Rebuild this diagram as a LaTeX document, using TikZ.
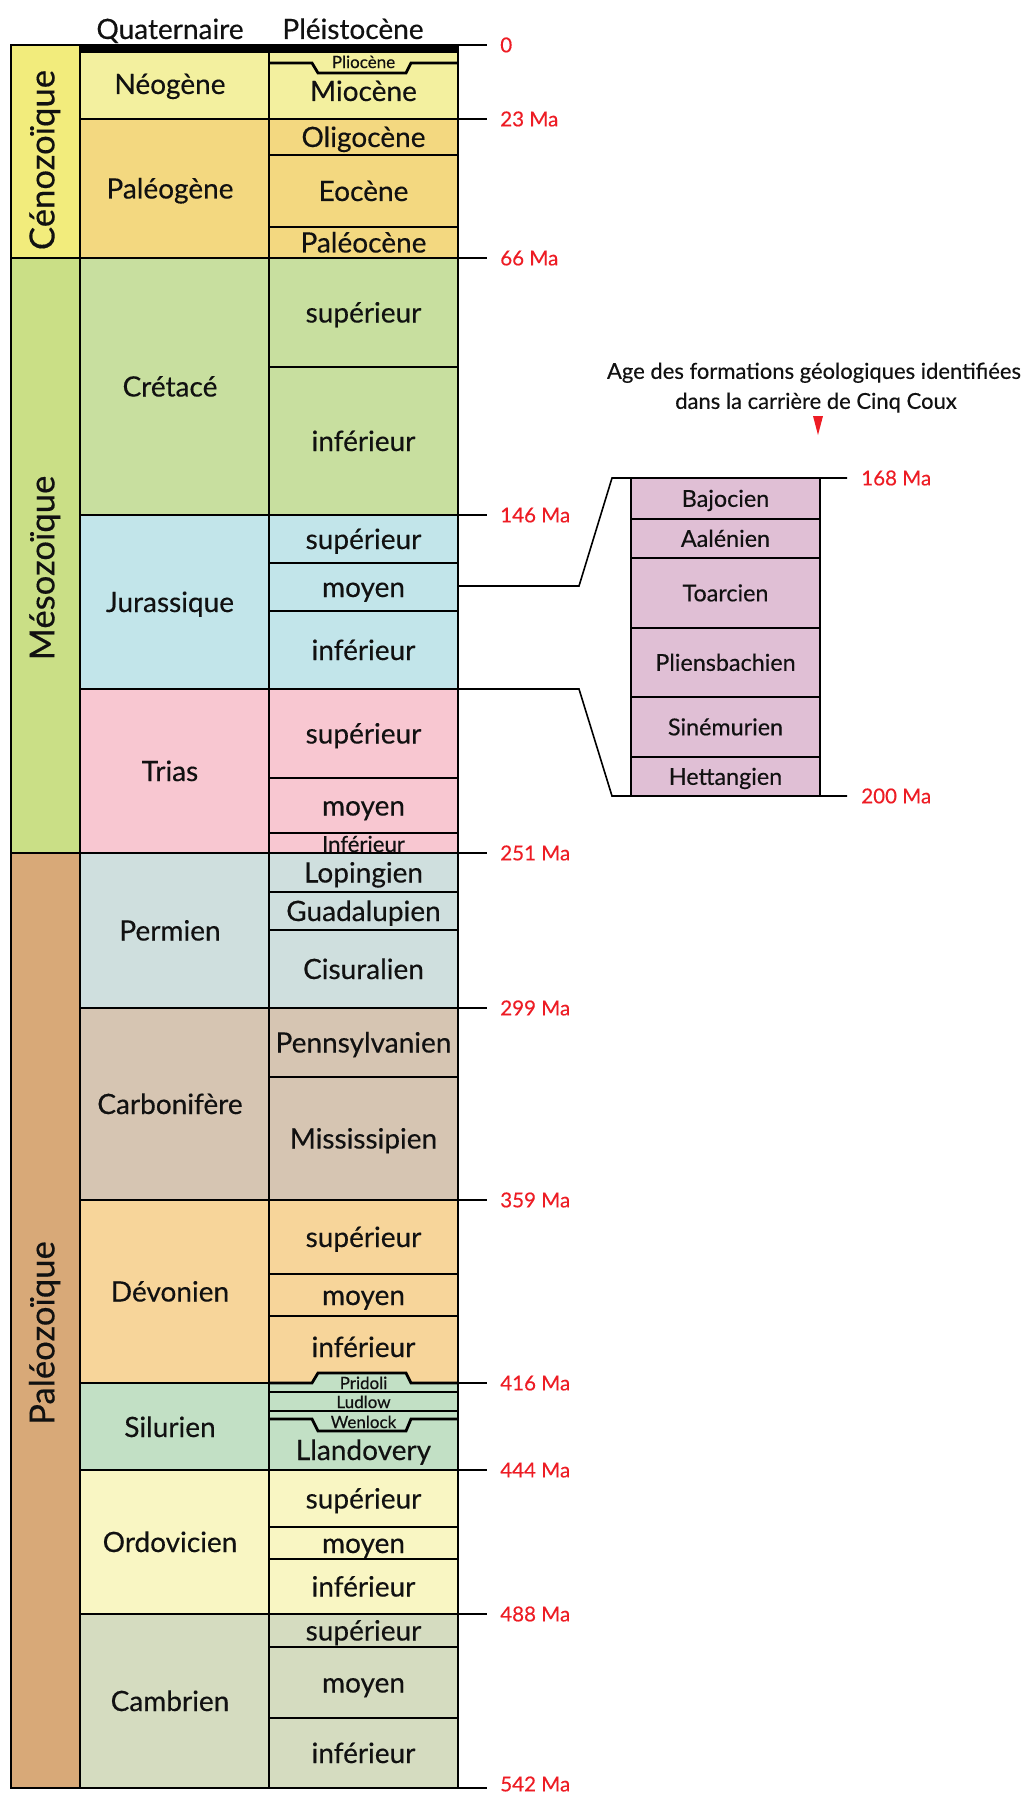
\documentclass[tikz,border=0pt]{standalone}
\usepackage{fontspec}
\setmainfont{Lato}[FakeBold=0.35]
\definecolor{ceno}{HTML}{F2EC7C}
\definecolor{neog}{HTML}{F3F09F}
\definecolor{paleog}{HTML}{F3D880}
\definecolor{meso}{HTML}{CADF86}
\definecolor{cret}{HTML}{C8DF9F}
\definecolor{jura}{HTML}{C2E5EA}
\definecolor{trias}{HTML}{F8C7D1}
\definecolor{paleo}{HTML}{D8A978}
\definecolor{perm}{HTML}{CFDFDE}
\definecolor{carb}{HTML}{D6C5B2}
\definecolor{devo}{HTML}{F7D59A}
\definecolor{silu}{HTML}{C2E0C5}
\definecolor{ordo}{HTML}{F9F6C3}
\definecolor{camb}{HTML}{D5DCC0}
\definecolor{jdet}{HTML}{E0BFD5}
\definecolor{redl}{HTML}{ED1C24}
\definecolor{txt}{HTML}{111111}
\begin{document}
\begin{tikzpicture}[x=0.75pt,y=-0.75pt,
  bx/.style={draw=black,line width=2.1pt},
  sepline/.style={draw=black,line width=2.1pt},
  tickline/.style={draw=black,line width=1.2pt},
  lab/.style={inner sep=0pt,text depth=0pt,text=txt},
  fm/.style={lab,font=\fontsize{21}{25}\selectfont,text height=15.0pt},
  fs/.style={lab,font=\fontsize{12.75}{15}\selectfont,text height=9.1pt},
  fd/.style={lab,font=\fontsize{17.5}{21}\selectfont,text height=12.5pt},
  era/.style={lab,font=\fontsize{26}{30}\selectfont,text height=18.6pt,rotate=90},
  age/.style={lab,anchor=west,text=redl,font=\fontsize{15.4}{18}\selectfont,text height=11.0pt},
  ttl/.style={lab,font=\fontsize{16.5}{19}\selectfont,text height=11.8pt},
]
\useasboundingbox (0,0) rectangle (1022,1794);

% ---- eras
\filldraw[bx,fill=ceno] (11,45) rectangle (80,258);
\filldraw[bx,fill=meso] (11,258) rectangle (80,853);
\filldraw[bx,fill=paleo] (11,853) rectangle (80,1788);

% ---- periods
\filldraw[bx,fill=neog] (80,52) rectangle (269,119);
\filldraw[bx,fill=paleog] (80,119) rectangle (269,258);
\filldraw[bx,fill=cret] (80,258) rectangle (269,515);
\filldraw[bx,fill=jura] (80,515) rectangle (269,689);
\filldraw[bx,fill=trias] (80,689) rectangle (269,853);
\filldraw[bx,fill=perm] (80,853) rectangle (269,1008);
\filldraw[bx,fill=carb] (80,1008) rectangle (269,1200);
\filldraw[bx,fill=devo] (80,1200) rectangle (269,1383);
\filldraw[bx,fill=silu] (80,1383) rectangle (269,1470);
\filldraw[bx,fill=ordo] (80,1470) rectangle (269,1614);
\filldraw[bx,fill=camb] (80,1614) rectangle (269,1788);

% ---- epochs
\filldraw[bx,fill=neog] (269,52) rectangle (458,119);
\filldraw[bx,fill=paleog] (269,119) rectangle (458,155);
\filldraw[bx,fill=paleog] (269,155) rectangle (458,227);
\filldraw[bx,fill=paleog] (269,227) rectangle (458,258);
\filldraw[bx,fill=cret] (269,258) rectangle (458,367);
\filldraw[bx,fill=cret] (269,367) rectangle (458,515);
\filldraw[bx,fill=jura] (269,515) rectangle (458,563);
\filldraw[bx,fill=jura] (269,563) rectangle (458,611);
\filldraw[bx,fill=jura] (269,611) rectangle (458,689);
\filldraw[bx,fill=trias] (269,689) rectangle (458,778);
\filldraw[bx,fill=trias] (269,778) rectangle (458,833);
\filldraw[bx,fill=trias] (269,833) rectangle (458,853);
\filldraw[bx,fill=perm] (269,853) rectangle (458,892);
\filldraw[bx,fill=perm] (269,892) rectangle (458,930);
\filldraw[bx,fill=perm] (269,930) rectangle (458,1008);
\filldraw[bx,fill=carb] (269,1008) rectangle (458,1077);
\filldraw[bx,fill=carb] (269,1077) rectangle (458,1200);
\filldraw[bx,fill=devo] (269,1200) rectangle (458,1274);
\filldraw[bx,fill=devo] (269,1274) rectangle (458,1316);
\filldraw[bx,fill=devo] (269,1316) rectangle (458,1383);
\filldraw[bx,fill=silu] (269,1383) rectangle (458,1470);
\filldraw[bx,fill=ordo] (269,1470) rectangle (458,1527);
\filldraw[bx,fill=ordo] (269,1527) rectangle (458,1559);
\filldraw[bx,fill=ordo] (269,1559) rectangle (458,1614);
\filldraw[bx,fill=camb] (269,1614) rectangle (458,1647);
\filldraw[bx,fill=camb] (269,1647) rectangle (458,1718);
\filldraw[bx,fill=camb] (269,1718) rectangle (458,1788);

% top black band (Quaternaire / Pleistocene)
\fill[black] (79,44) rectangle (459,52);

% notched boundaries
\draw[sepline] (269,63) -- (312,63) -- (318,73) -- (406,73) -- (411,63) -- (458,63);
\fill[silu] (312,1385.5) -- (318,1373) -- (406,1373) -- (411,1385.5) -- cycle;
\draw[sepline] (269,1383) -- (312,1383) -- (318,1373) -- (406,1373) -- (411,1383) -- (458,1383);
\draw[sepline] (269,1392) -- (458,1392);
\draw[sepline] (269,1411) -- (458,1411);
\draw[sepline] (269,1419) -- (312,1419) -- (318,1431) -- (406,1431) -- (411,1419) -- (458,1419);

% ---- headers
\node[fm] (hq) at (170,29) {Quaternaire};
\node[fm] (hp) at (353,29) {Pléistocène};

% ---- era labels
\node[era] (e1) at (42,160) {Cénozoïque};
\node[era] (e2) at (42,568) {Mésozoïque};
\node[era] (e3) at (42,1333) {Paléozoïque};

% ---- period labels
\node[fm] (p1) at (170,84) {Néogène};
\node[fm] (p2) at (170,188.5) {Paléogène};
\node[fm] (p3) at (170,386.5) {Crétacé};
\node[fm] (p4) at (170,602) {Jurassique};
\node[fm] (p5) at (170,771) {Trias};
\node[fm] (p6) at (170,930.5) {Permien};
\node[fm] (p7) at (170,1104) {Carbonifère};
\node[fm] (p8) at (170,1291.5) {Dévonien};
\node[fm] (p9) at (170,1427) {Silurien};
\node[fm] (p10) at (170,1542) {Ordovicien};
\node[fm] (p11) at (170,1701) {Cambrien};

% ---- epoch labels
\node[fs] (s1) at (363.5,62) {Pliocène};
\node[fm] (s2) at (363.5,91) {Miocène};
\node[fm] (s3) at (363.5,137) {Oligocène};
\node[fm] (s4) at (363.5,191) {Eocène};
\node[fm] (s5) at (363.5,242.5) {Paléocène};
\node[fm] (s6) at (363.5,312.5) {supérieur};
\node[fm] (s7) at (363.5,441) {inférieur};
\node[fm] (s8) at (363.5,539) {supérieur};
\node[fm] (s9) at (363.5,587) {moyen};
\node[fm] (s10) at (363.5,650) {inférieur};
\node[fm] (s11) at (363.5,733.5) {supérieur};
\node[fm] (s12) at (363.5,805.5) {moyen};
\node[lab,font=\fontsize{16.6}{20}\selectfont,anchor=base] (s13) at (363.5,852) {Inférieur};
\node[fm] (s14) at (363.5,872.5) {Lopingien};
\node[fm] (s15) at (363.5,911) {Guadalupien};
\node[fm] (s16) at (363.5,969) {Cisuralien};
\node[fm] (s17) at (363.5,1042.5) {Pennsylvanien};
\node[fm] (s18) at (363.5,1138.5) {Mississipien};
\node[fm] (s19) at (363.5,1237) {supérieur};
\node[fm] (s20) at (363.5,1295) {moyen};
\node[fm] (s21) at (363.5,1347) {inférieur};
\node[fs] (s22) at (363.5,1383) {Pridoli};
\node[fs] (s23) at (363.5,1402) {Ludlow};
\node[fs] (s24) at (363.5,1422) {Wenlock};
\node[fm] (s25) at (363.5,1450) {Llandovery};
\node[fm] (s26) at (363.5,1498.5) {supérieur};
\node[fm] (s27) at (363.5,1543) {moyen};
\node[fm] (s28) at (363.5,1586.5) {inférieur};
\node[fm] (s29) at (363.5,1630.5) {supérieur};
\node[fm] (s30) at (363.5,1682.5) {moyen};
\node[fm] (s31) at (363.5,1753) {inférieur};

% ---- age ticks and labels
\foreach \yy/\ly/\tt [count=\i] in {45/45/0,119/119/23 Ma,258/258/66 Ma,515/515/146 Ma,853/853/251 Ma,1008/1008/299 Ma,1200/1200/359 Ma,1383/1383/416 Ma,1470/1470/444 Ma,1614/1614/488 Ma,1788/1784/542 Ma}{
  \coordinate (tk\i) at (458,\yy);
  \coordinate (te\i) at (487,\yy);
  \draw[tickline] (tk\i) -- (te\i);
  \node[age] (a\i) at (500,\ly) {\tt};
}

% ---- zoom connector
\coordinate (jm) at (458,586);
\coordinate (c1) at (579,586);
\coordinate (c2) at (612,478);
\coordinate (t168) at (847,478);
\coordinate (jb) at (458,689);
\coordinate (c3) at (579,689);
\coordinate (c4) at (612,796);
\coordinate (t200) at (847,796);
\draw[tickline] (jm) -- (c1) -- (c2) -- (t168);
\draw[tickline] (jb) -- (c3) -- (c4) -- (t200);

% ---- detail box (Jurassic stages)
\filldraw[bx,fill=jdet] (631,478) rectangle (820,519);
\filldraw[bx,fill=jdet] (631,519) rectangle (820,558);
\filldraw[bx,fill=jdet] (631,558) rectangle (820,628);
\filldraw[bx,fill=jdet] (631,628) rectangle (820,697);
\filldraw[bx,fill=jdet] (631,697) rectangle (820,757);
\filldraw[bx,fill=jdet] (631,757) rectangle (820,796);
\node[fd] (d1) at (725.5,498.5) {Bajocien};
\node[fd] (d2) at (725.5,538.5) {Aalénien};
\node[fd] (d3) at (725.5,593) {Toarcien};
\node[fd] (d4) at (725.5,662.5) {Pliensbachien};
\node[fd] (d5) at (725.5,727) {Sinémurien};
\node[fd] (d6) at (725.5,776.5) {Hettangien};
\node[age] (a168) at (861,478) {168 Ma};
\node[age] (a200) at (861,796) {200 Ma};

% ---- title and marker
\node[ttl] (t1) at (814,371) {Age des formations géologiques identifiées};
\node[ttl] (t2) at (816,401) {dans la carrière de Cinq Coux};
\fill[redl] (813,416) -- (823,416) -- (818,435) -- cycle;
\end{tikzpicture}
\end{document}
